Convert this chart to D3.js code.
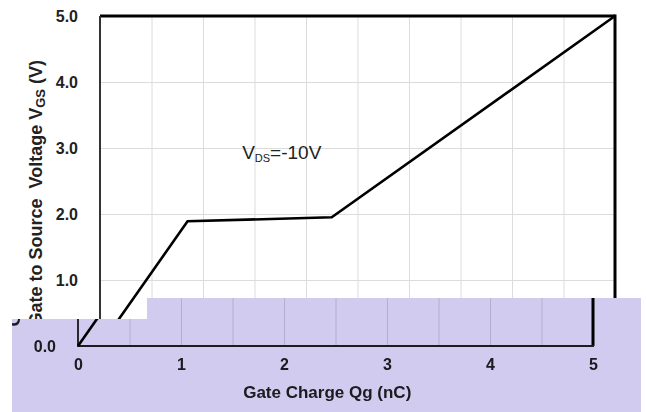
<!DOCTYPE html>
<html>
<head>
<meta charset="utf-8">
<script src="https://cdn.jsdelivr.net/npm/d3@7"></script>
<style>
  body { margin: 0; background: #fff; }
  svg { display: block; font-family: "Liberation Sans", Arial, sans-serif; }
</style>
</head>
<body>
<div id="chart"></div>
<script>
// gate charge curve
var qg = [0, 0.85, 2.25, 5.0];
var vgs = [0, 1.89, 1.95, 5.0];

var xTicks = [0, 1, 2, 3, 4, 5];
var yTicks = [0, 1, 2, 3, 4, 5];
var xGrid = [0.5, 1, 1.5, 2, 2.5, 3, 3.5, 4, 4.5];
var yGrid = [1, 2, 3, 4];

var W = 646, H = 412;
var margin = { top: 16, left: 100, right: 31, bottom: 66 };
var w = W - margin.left - margin.right;
var h = H - margin.top - margin.bottom;

var xScale = d3.scaleLinear().domain([0, 5]).range([0, w]);
var yScale = d3.scaleLinear().domain([0, 5]).range([h, 0]);

var svg = d3.select("#chart").append("svg")
    .attr("width", W)
    .attr("height", H);

svg.append("rect").attr("width", W).attr("height", H).attr("fill", "#fff");

function drawChart(root) {
    var g = root.append("g")
        .attr("transform", "translate(" + margin.left + "," + margin.top + ")");

    // grid
    g.append("g")
        .attr("transform", "translate(0," + h + ")")
        .call(d3.axisBottom(xScale).tickValues(xGrid).tickSize(-h).tickFormat(""))
        .call(function (a) { a.select(".domain").remove(); })
        .selectAll("line").attr("stroke", "#dcdcdc");
    g.append("g")
        .call(d3.axisLeft(yScale).tickValues(yGrid).tickSize(-w).tickFormat(""))
        .call(function (a) { a.select(".domain").remove(); })
        .selectAll("line").attr("stroke", "#dcdcdc");

    // frame
    g.append("line").attr("x1", 0).attr("x2", w).attr("y1", 0).attr("y2", 0)
        .attr("stroke", "#000").attr("stroke-width", 3);
    g.append("line").attr("x1", w).attr("x2", w).attr("y1", -1.5).attr("y2", h)
        .attr("stroke", "#000").attr("stroke-width", 3);
    g.append("line").attr("x1", 0).attr("x2", 0).attr("y1", 0).attr("y2", h + 1)
        .attr("stroke", "#333").attr("stroke-width", 2);
    g.append("line").attr("x1", 0).attr("x2", w + 1).attr("y1", h).attr("y2", h)
        .attr("stroke", "#222").attr("stroke-width", 2);

    // tick labels
    var xAxis = g.append("g")
        .attr("transform", "translate(0," + h + ")")
        .call(d3.axisBottom(xScale).tickValues(xTicks).tickSize(0).tickPadding(13)
            .tickFormat(d3.format("d")));
    xAxis.select(".domain").remove();
    xAxis.selectAll("text")
        .attr("font-family", null)
        .attr("font-size", 16).attr("font-weight", "bold").attr("fill", "#222");

    var yAxis = g.append("g")
        .call(d3.axisLeft(yScale).tickValues(yTicks).tickSize(0).tickPadding(22)
            .tickFormat(d3.format(".1f")));
    yAxis.select(".domain").remove();
    yAxis.selectAll("text")
        .attr("font-family", null)
        .attr("font-size", 16).attr("font-weight", "bold").attr("fill", "#222");

    // curve
    var pts = qg.map(function (d, i) { return [d, vgs[i]]; });
    var line = d3.line()
        .x(function (d) { return xScale(d[0]); })
        .y(function (d) { return yScale(d[1]); });
    g.append("path")
        .datum(pts)
        .attr("d", line)
        .attr("fill", "none")
        .attr("stroke", "#000")
        .attr("stroke-width", 2.6)
        .attr("stroke-linejoin", "miter");

    // annotation
    var ann = g.append("text")
        .attr("x", xScale(1.38))
        .attr("y", yScale(2.83))
        .attr("font-size", 19)
        .attr("fill", "#222");
    ann.append("tspan").text("V");
    ann.append("tspan").attr("font-size", 11).attr("dy", 3).text("DS");
    ann.append("tspan").attr("dy", -3).text("=-10V");

    // axis titles
    g.append("text")
        .attr("x", xScale(2.42))
        .attr("y", h + 52)
        .attr("text-anchor", "middle")
        .attr("font-size", 17)
        .attr("font-weight", "bold")
        .attr("fill", "#222")
        .text("Gate Charge Qg (nC)");

    var yt = g.append("text")
        .attr("transform", "translate(" + (-58) + "," + 44 + ") rotate(-90)")
        .attr("text-anchor", "end")
        .attr("font-size", 18)
        .attr("font-weight", "bold")
        .attr("fill", "#222")
        .style("white-space", "pre");
    yt.append("tspan").text("Gate to Source  Voltage V");
    yt.append("tspan").attr("font-size", 13).attr("dy", 3).text("GS");
    yt.append("tspan").attr("dy", -3).text(" (V)");
}

// main chart
drawChart(svg.append("g"));

// lower strip: shifted copy under a purple tint
var band = [[12, 319], [147, 319], [147, 298], [641, 298], [641, 412], [12, 412]];
svg.append("clipPath").attr("id", "bandClip")
    .append("polygon")
    .attr("points", band.map(function (p) { return p.join(","); }).join(" "));

var lower = svg.append("g")
    .attr("clip-path", "url(#bandClip)")
    .style("isolation", "isolate");
lower.append("rect").attr("width", W).attr("height", H).attr("fill", "#fff");
drawChart(lower.append("g").attr("transform", "translate(-22,0)"));
lower.append("rect").attr("width", W).attr("height", H)
    .attr("fill", "#d2cbf0")
    .style("mix-blend-mode", "multiply");
</script>
</body>
</html>
